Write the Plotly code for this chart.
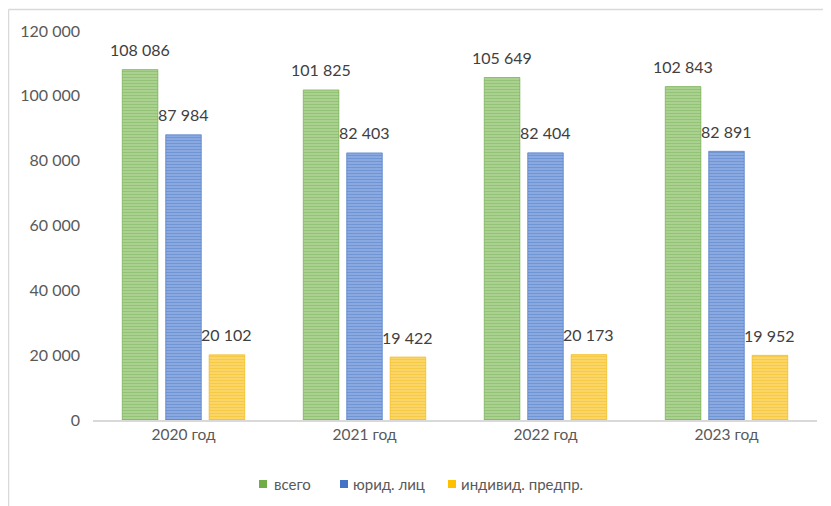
import plotly.graph_objects as go

categories = ["2020 год", "2021 год", "2022 год", "2023 год"]
vsego = [108086, 101825, 105649, 102843]
yurid = [87984, 82403, 82404, 82891]
ip = [20102, 19422, 20173, 19952]
series_names = ["всего", "юрид. лиц", "индивид. предпр."]
y_ticks = [0, 20000, 40000, 60000, 80000, 100000, 120000]

def fmt(v):
    return f"{v:,}".replace(",", " ")

styles = [
    ("#64a53c", "#c3e0ad", "#70ad47"),
    ("#3a6bc2", "#a6bee9", "#4472c4"),
    ("#f0b400", "#ffe08a", "#ffc000"),
]

# page has an 8px body margin; figure is sized to the visible area
OFF = 8
W, H = 831 - OFF, 506 - OFF
L, R, T, B = 85, 14, 23, 86
pw, ph = W - L - R, H - T - B
def sx(x): return (x - OFF - L) / pw          # screen px -> paper x
def sy(y): return (H - B - (y - OFF)) / ph    # screen px -> paper y

bargap, bargroupgap = 0.28, 0.18
slot = pw / len(categories) * (1 - bargap) / 3

fig = go.Figure()
annotations = []
for i, (name, vals, (dark, light, solid)) in enumerate(zip(series_names, [vsego, yurid, ip], styles)):
    fig.add_trace(go.Bar(
        x=categories, y=vals, name=name, showlegend=False,
        marker=dict(color=light, line=dict(color=dark, width=0.6),
                    pattern=dict(shape="-", fgcolor=dark, bgcolor=light, size=3, solidity=0.68)),
        hoverinfo="x+y",
    ))
    for c, v in zip(categories, vals):
        annotations.append(dict(x=c, y=v, xref="x", yref="y", text=fmt(v), showarrow=False,
                                xshift=(i - 1) * slot, yshift=20, yanchor="middle",
                                font=dict(size=16, color="#404040")))

# custom legend
leg_sq = [259, 340, 448]
leg_tx = [272, 351, 459]
shapes = [
    dict(type="line", xref="paper", yref="paper", x0=sx(8.5), x1=sx(831), y0=sy(9.5), y1=sy(9.5),
         line=dict(color="#d9d9d9", width=1.5)),
    dict(type="line", xref="paper", yref="paper", x0=sx(8.5), x1=sx(8.5), y0=sy(9.5), y1=sy(506),
         line=dict(color="#d9d9d9", width=1.5)),
]
for (dark, light, solid), xs, xt, name in zip(styles, leg_sq, leg_tx, series_names):
    shapes.append(dict(type="rect", xref="paper", yref="paper", x0=sx(xs), x1=sx(xs + 8),
                       y0=sy(480), y1=sy(488), fillcolor=solid, line=dict(width=0)))
    annotations.append(dict(xref="paper", yref="paper", x=sx(xt), y=sy(484), xanchor="left",
                            yanchor="middle", text=name, showarrow=False,
                            font=dict(size=15, color="#595959")))

fig.update_layout(
    width=W, height=H,
    margin=dict(l=L, r=R, t=T, b=B, autoexpand=False),
    paper_bgcolor="white", plot_bgcolor="white",
    font=dict(family="Lato, Open Sans, sans-serif", size=15, color="#595959"),
    separators=", ",
    barmode="group", bargap=bargap, bargroupgap=bargroupgap,
    showlegend=False,
    xaxis=dict(showline=True, linecolor="#d9d9d9", linewidth=1.5, ticks="",
               tickfont=dict(size=15.5, color="#595959"), showgrid=False),
    yaxis=dict(range=[0, 120000], tickvals=y_ticks, tickformat=",d", showgrid=False,
               showline=False, ticks="", ticklabelstandoff=12, zeroline=False,
               tickfont=dict(size=16, color="#595959")),
    shapes=shapes,
    annotations=annotations,
)

fig.write_html("out.html")
